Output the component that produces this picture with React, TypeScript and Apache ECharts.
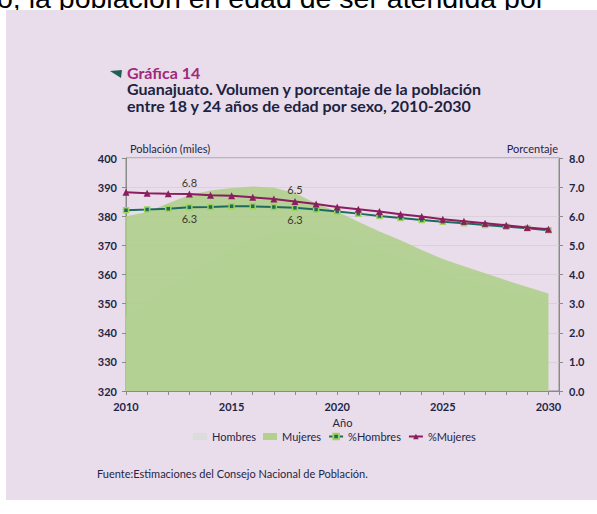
import React, { useEffect, useRef } from "react";
import * as echarts from "echarts";

const years = [2010, 2011, 2012, 2013, 2014, 2015, 2016, 2017, 2018, 2019, 2020, 2021, 2022, 2023, 2024, 2025, 2026, 2027, 2028, 2029, 2030];
const hombres = [345.5, 350.5, 356.0, 360.5, 365.0, 369.0, 372.4, 374.4, 374.8, 374.0, 373.0, 370.5, 368.5, 366.0, 363.5, 361.0, 358.5, 356.5, 354.5, 352.8, 351.2];
const mujeres = [380.0, 381.5, 384.5, 387.3, 388.8, 389.7, 390.2, 389.8, 388.0, 384.4, 381.6, 378.1, 374.8, 371.8, 368.4, 365.3, 362.8, 360.4, 358.0, 355.7, 353.5];
const pctHombres = [6.21, 6.23, 6.26, 6.31, 6.32, 6.34, 6.34, 6.32, 6.29, 6.23, 6.16, 6.09, 6.01, 5.94, 5.87, 5.81, 5.76, 5.70, 5.64, 5.59, 5.52];
const pctMujeres = [6.82, 6.79, 6.77, 6.76, 6.72, 6.70, 6.65, 6.59, 6.51, 6.42, 6.32, 6.24, 6.16, 6.07, 5.99, 5.90, 5.83, 5.76, 5.69, 5.61, 5.55];
const labeledIdx = [3, 8];
const legendNames = ["Hombres", "Mujeres", "%Hombres", "%Mujeres"];

const FONT = "Lato";
const NAVY = "#1f2545";

export default function App() {
  const ref = useRef<HTMLDivElement>(null);
  useEffect(() => {
    if (!ref.current) return;
    const chart = echarts.init(ref.current, undefined, { renderer: "svg" });
    const pair = (arr: number[]) => years.map((y, i) => [y, arr[i]]);
    const labeled = (arr: number[], pos: string) =>
      years.map((y, i) =>
        labeledIdx.includes(i)
          ? { value: [y, arr[i]], label: { show: true, position: pos } }
          : { value: [y, arr[i]] }
      );
    const option: any = {
      animation: false,
      backgroundColor: "#ffffff",
      textStyle: { fontFamily: FONT },
      grid: {
        left: 126, top: 158, right: 38, bottom: 123,
        show: true, borderColor: "#8a8a8a", borderWidth: 1, backgroundColor: "transparent",
      },
      legend: {
        top: 426, left: 188, itemWidth: 14, itemHeight: 7, itemGap: 7,
        textStyle: { fontFamily: FONT, fontSize: 11, color: NAVY },
        data: [
          { name: legendNames[0], icon: "rect" },
          { name: legendNames[1], icon: "rect" },
          legendNames[2],
          legendNames[3],
        ],
      },
      xAxis: {
        type: "value", min: 2010, max: 2030.5, interval: 1,
        name: "Año", nameLocation: "middle", nameGap: 26,
        nameTextStyle: { fontFamily: FONT, fontSize: 11, color: NAVY },
        axisLine: { lineStyle: { color: "#8a8a8a" } },
        axisTick: { length: 4, lineStyle: { color: "#8a8a8a" } },
        splitLine: { show: false },
        axisLabel: {
          formatter: (v: number) => (v % 5 === 0 ? String(v) : ""),
          fontFamily: FONT, fontSize: 11, fontWeight: "bold", color: NAVY, margin: 10,
        },
      },
      yAxis: [
        {
          type: "value", min: 320, max: 400, interval: 10,
          axisLine: { show: true, lineStyle: { color: "#8a8a8a" } },
          axisTick: { show: true, length: 4, lineStyle: { color: "#8a8a8a" } },
          splitLine: { lineStyle: { color: "#d9d1dc" } },
          axisLabel: { fontFamily: FONT, fontSize: 11, fontWeight: "bold", color: NAVY, margin: 9 },
        },
        {
          type: "value", min: 0, max: 8, interval: 1, position: "right",
          axisLine: { show: true, lineStyle: { color: "#8a8a8a" } },
          axisTick: { show: true, length: 4, lineStyle: { color: "#8a8a8a" } },
          splitLine: { show: false },
          axisLabel: {
            formatter: (v: number) => v.toFixed(1),
            fontFamily: FONT, fontSize: 11, fontWeight: "bold", color: NAVY, margin: 10,
          },
        },
      ],
      series: [
        {
          name: "Hombres", type: "line", yAxisIndex: 0, data: pair(hombres),
          symbol: "none", lineStyle: { width: 0 }, color: "#dcdcdc",
          itemStyle: { color: "#dcdcdc" },
          areaStyle: { color: "#dcdcdc", opacity: 1, origin: "start" }, z: 1,
        },
        {
          name: "Mujeres", type: "line", yAxisIndex: 0, data: pair(mujeres),
          symbol: "none", lineStyle: { width: 0 }, color: "#b2d18f",
          itemStyle: { color: "#b2d18f" },
          areaStyle: { color: "#abcf86", opacity: 0.85, origin: "start" }, z: 1,
        },
        {
          name: "%Hombres", type: "line", yAxisIndex: 1, data: labeled(pctHombres, "bottom"),
          symbol: "rect", symbolSize: 5, color: "#1d6b5e",
          itemStyle: { color: "#1d6b5e", borderColor: "#9fd35a", borderWidth: 1.5 },
          lineStyle: { color: "#1d6b5e", width: 2 },
          label: {
            formatter: (p: any) => p.value[1].toFixed(1), distance: 3,
            fontFamily: FONT, fontSize: 11, color: "#3a3a30",
          },
          z: 3,
        },
        {
          name: "%Mujeres", type: "line", yAxisIndex: 1, data: labeled(pctMujeres, "top"),
          symbol: "triangle", symbolSize: 7, color: "#8c1d5e",
          itemStyle: { color: "#8c1d5e" },
          lineStyle: { color: "#8c1d5e", width: 2 },
          label: {
            formatter: (p: any) => p.value[1].toFixed(1), distance: 3,
            fontFamily: FONT, fontSize: 11, color: "#3a3a30",
          },
          z: 4,
        },
      ],
      graphic: [
        {
          type: "text", z: -200, x: -3, y: -2.5,
          style: { text: "o, la población en edad de ser atendida por", font: "28.5px 'Liberation Sans'", fill: "#000", verticalAlign: "middle" },
        },
        { type: "rect", z: -100, shape: { x: 6, y: 10, width: 600, height: 490 }, style: { fill: "#e9ddeb" } },
        { type: "polygon", z: 100, shape: { points: [[110, 71], [122, 70], [121, 78]] }, style: { fill: "#1f5f5a" } },
        {
          type: "text", z: 100, x: 127, y: 72,
          style: { text: "Gráfica 14", font: `bold 16px ${FONT}`, lineHeight: 15, fill: "#a2287a", verticalAlign: "middle" },
        },
        {
          type: "text", z: 100, x: 127, y: 88,
          style: { text: "Guanajuato. Volumen y porcentaje de la población", font: `bold 16px ${FONT}`, lineHeight: 15, fill: "#1c2340", verticalAlign: "middle" },
        },
        {
          type: "text", z: 100, x: 127, y: 105.5,
          style: { text: "entre 18 y 24 años de edad por sexo, 2010-2030", font: `bold 16px ${FONT}`, lineHeight: 15, fill: "#1c2340", verticalAlign: "middle" },
        },
        {
          type: "text", z: 100, x: 130, y: 148,
          style: { text: "Población (miles)", font: `11px ${FONT}`, fill: NAVY, verticalAlign: "middle" },
        },
        {
          type: "text", z: 100, x: 558, y: 148,
          style: { text: "Porcentaje", font: `11px ${FONT}`, fill: NAVY, verticalAlign: "middle", align: "right" },
        },
        {
          type: "text", z: 100, x: 97, y: 473,
          style: { text: "Fuente:Estimaciones del Consejo Nacional de Población.", font: `11px ${FONT}`, fill: NAVY, verticalAlign: "middle" },
        },
      ],
    };
    chart.setOption(option);
    return () => chart.dispose();
  }, []);
  return <div ref={ref} style={{ position: "absolute", left: 0, top: 0, width: 597, height: 514 }} />;
}
